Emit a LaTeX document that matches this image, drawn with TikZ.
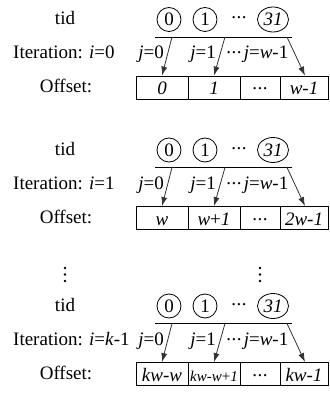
\documentclass[tikz,border=0pt]{standalone}
\usepackage{fontspec}
\setmainfont{Liberation Serif}
\usetikzlibrary{arrows.meta,shapes.geometric}
\newcommand{\mydots}{\raisebox{5pt}{.\kern0.6pt.\kern0.6pt.}}
\tikzset{
  lab/.style={font=\fontsize{19}{22}\selectfont, inner sep=0pt},
  circ/.style={draw, circle, minimum size=24pt, inner sep=0pt, line width=0.8pt, font=\fontsize{19}{22}\selectfont},
  ell/.style={draw, ellipse, minimum width=31pt, minimum height=25pt, inner sep=0pt, line width=0.8pt, font=\fontsize{19}{22}\selectfont},
  cell/.style={draw, rectangle, minimum height=23pt, inner sep=0pt, text height=15pt, text depth=1pt, line width=0.8pt, font=\fontsize{19}{22}\selectfont},
  arr/.style={-{Latex[length=9pt,width=6pt]}, line width=0.8pt, color=black!80},
  bar/.style={line width=0.8pt},
}
\newcommand{\tblock}[7]{%
\begin{scope}[shift={(0,#1)}]
  \node[lab, anchor=base] (#2tid) at (65,25) {tid};
  \node[lab, anchor=base west] (#2it) at (13,59) {Iteration: #3};
  \node[lab, anchor=base] (#2off) at (66,93) {Offset:};
  \node[circ] (#2c0) at (169,19.5) {0};
  \node[circ] (#2c1) at (205,19.5) {1};
  \node[lab, anchor=base] (#2cd) at (239,24) {\mydots};
  \node[ell] (#2c31) at (273,19.5) {\textit{31}};
  \coordinate (#2la) at (155,37);
  \coordinate (#2lb) at (292,37);
  \draw[bar] (#2la) -- (#2lb);
  \node[cell, minimum width=52pt] (#2k1) at (162,87.5) {#4};
  \node[cell, minimum width=52pt] (#2k2) at (214,87.5) {#5};
  \node[cell, minimum width=40pt] (#2k3) at (260,87.5) {\mydots};
  \node[cell, minimum width=48pt] (#2k4) at (304,87.5) {#7};
  \coordinate (#2s1) at (172,37);
  \coordinate (#2s2) at (225,37);
  \coordinate (#2s3) at (287,37);
  \draw[arr] (#2s1) -- (#2k1.north);
  \draw[arr] (#2s2) -- (#2k2.north);
  \draw[arr] (#2s3) -- ([xshift=1pt]#2k4.north);
  \node[lab, anchor=base] (#2j0) at (151,59) {\textit{j}=0};
  \node[lab, anchor=base] (#2j1) at (203,59) {\textit{j}=1};
  \node[lab, anchor=base] (#2jd) at (234,59) {\mydots};
  \node[lab, anchor=base] (#2jw) at (266,59) {\textit{j}=\textit{w}-1};
\end{scope}}
\begin{document}
\begin{tikzpicture}[x=1pt,y=-1pt]
\useasboundingbox (0,0) rectangle (329,398);
\tblock{0}{a}{\textit{i}=0}{\textit{0}}{\textit{1}}{}{\textit{w-1}}
\tblock{130.5}{b}{\textit{i}=1}{\textit{w}}{\textit{w}+\textit{1}}{}{\textit{2w-1}}
\tblock{286.5}{c}{\textit{i}=\textit{k}-1}{\textit{kw-w}}{{\fontsize{15}{17}\selectfont\textit{kw-w}+\textit{1}}}{}{\textit{kw-1}}
\foreach \yy in {268,274.5,281}{
  \fill (65,\yy) circle (1.3pt);
  \fill (260,\yy) circle (1.3pt);
}
\end{tikzpicture}
\end{document}
